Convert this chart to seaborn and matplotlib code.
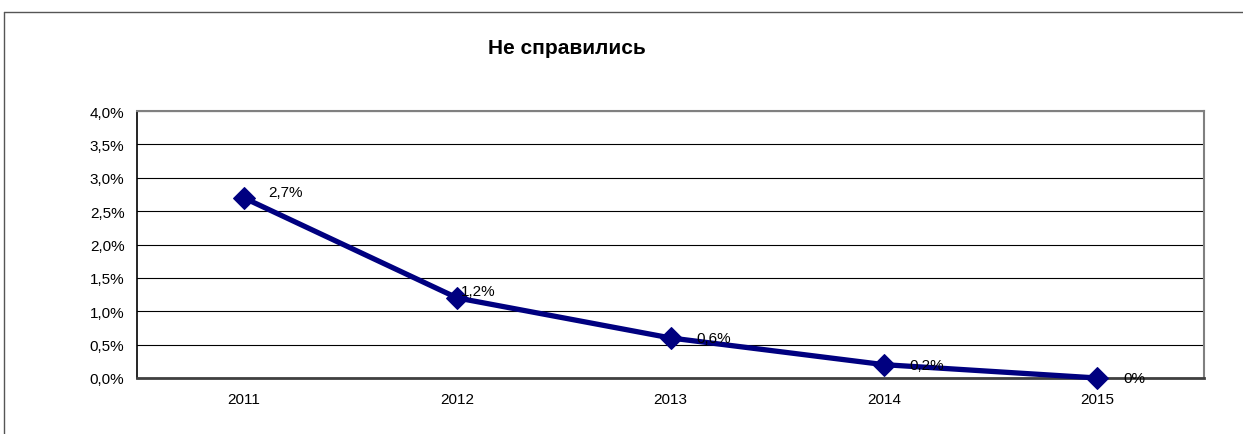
import pandas as pd
import matplotlib.pyplot as plt
import seaborn as sns
from matplotlib.ticker import FuncFormatter, FixedLocator

# Данные
years = ['2011', '2012', '2013', '2014', '2015']
values = [2.7, 1.2, 0.6, 0.2, 0.0]
labels = ['2,7%', '1,2%', '0,6%', '0,2%', '0%']
y_ticks = [0.0, 0.5, 1.0, 1.5, 2.0, 2.5, 3.0, 3.5, 4.0]

# смещения подписей (пиксели)
label_offsets = [(25, 6), (4, 7), (26, 0), (25, 0), (26, 0)]

df = pd.DataFrame({'year': years, 'value': values})

sns.set_style('white')
plt.rcParams['font.family'] = ['Liberation Sans', 'DejaVu Sans']
plt.rcParams['text.color'] = 'black'
plt.rcParams['xtick.color'] = 'black'
plt.rcParams['ytick.color'] = 'black'
plt.rcParams['xtick.labelcolor'] = 'black'
plt.rcParams['ytick.labelcolor'] = 'black'

fig = plt.figure(figsize=(12.43, 4.35), dpi=100)
ax = fig.add_axes([137 / 1243, 1 - 379 / 435, (1204 - 137) / 1243, (379 - 112) / 435])

# рамка вокруг диаграммы
fig.add_artist(plt.Line2D([4 / 1243, 4 / 1243], [0, 1 - 13 / 435],
                          transform=fig.transFigure, color='#555555', lw=1))
fig.add_artist(plt.Line2D([4 / 1243, 1], [1 - 13 / 435, 1 - 13 / 435],
                          transform=fig.transFigure, color='#555555', lw=1))

sns.lineplot(data=df, x='year', y='value', ax=ax, color='#000080',
             linewidth=3.8, marker='D', markersize=11, markeredgecolor='#000080',
             zorder=5, sort=False)
for ln in ax.lines:
    ln.set_clip_on(False)

for i, (lab, v) in enumerate(zip(labels, values)):
    dx, dy = label_offsets[i]
    ax.annotate(lab, (i, v), xytext=(dx, dy), textcoords='offset pixels',
                ha='left', va='center', fontsize=11, color='black', zorder=6)

ax.set_xlim(-0.5, len(years) - 0.5)
ax.set_ylim(0, 4.0)
ax.set_yticks(y_ticks)
ax.yaxis.set_major_formatter(FuncFormatter(lambda v, p: f'{v:.1f}%'.replace('.', ',')))
ax.grid(axis='y', color='black', linewidth=0.8)
ax.set_axisbelow(True)

ax.set_xticks(range(len(years)))
ax.set_xticklabels(years)
ax.xaxis.set_minor_locator(FixedLocator([i - 0.5 for i in range(len(years) + 1)]))
ax.tick_params(axis='x', which='major', length=0, pad=10, labelsize=11)
ax.tick_params(axis='x', which='minor', length=5, width=1, color='black', direction='out')
ax.tick_params(axis='y', length=5, width=1, color='black', direction='out', labelsize=11, pad=4)

ax.set_xlabel('')
ax.set_ylabel('')

for side in ['top', 'right']:
    ax.spines[side].set_color('#808080')
    ax.spines[side].set_linewidth(1.5)
ax.spines['left'].set_color('black')
ax.spines['left'].set_linewidth(1.2)
ax.spines['bottom'].set_color('#404040')
ax.spines['bottom'].set_linewidth(2)

fig.text(567 / 1243, 1 - 48 / 435, 'Не справились', ha='center', va='center',
         fontsize=15, fontweight='bold', color='black')

fig.savefig('out.png', dpi=100)
